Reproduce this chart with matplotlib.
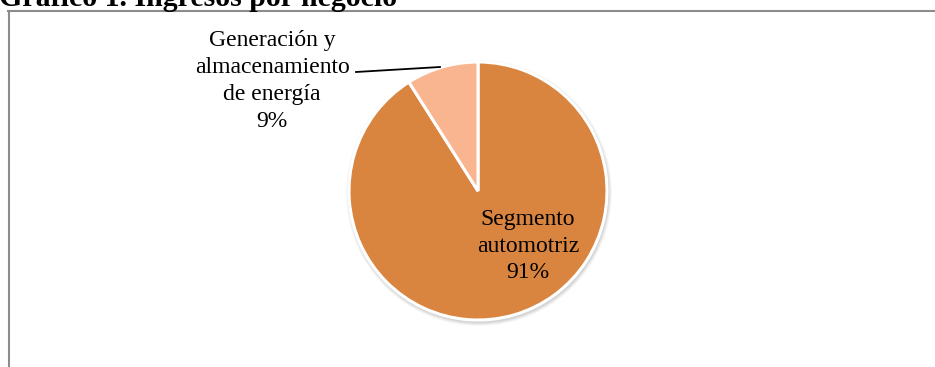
import matplotlib
matplotlib.use("Agg")
import matplotlib.pyplot as plt
from matplotlib.lines import Line2D

# ingresos por negocio (%)
categorias = ["Segmento\nautomotriz", "Generación y\nalmacenamiento\nde energía"]
valores = [91, 9]
colores = ["#D9843F", "#F8B58F"]
titulo = "Gráfico 1. Ingresos por negocio"

W, H = 935, 367
fig = plt.figure(figsize=(W / 100, H / 100), dpi=100)
fig.patch.set_facecolor("white")

# axes in pixel units, y measured upward
ax = fig.add_axes([0, 0, 1, 1])
cx, cy, r = 478, H - 191, 129

# soft shadow under the pie
for k, a in enumerate([0.05, 0.05, 0.04, 0.03]):
    sh = plt.Circle((cx + 1, cy - 2), r + 1 + k, color="#000000", alpha=a, lw=0)
    ax.add_patch(sh)

wedges, _ = ax.pie(valores, colors=colores, startangle=90, counterclock=False,
                   center=(cx, cy), radius=r,
                   wedgeprops=dict(edgecolor="white", linewidth=2.2))
ax.set_xlim(0, W)
ax.set_ylim(0, H)
ax.set_aspect("auto")
ax.axis("off")

total = sum(valores)
etiquetas = [f"{c}\n{v / total:.0%}" for c, v in zip(categorias, valores)]
fuente = "Liberation Serif"

ax.text(528, H - 246, etiquetas[0], ha="center", va="center",
        fontsize=17, family=fuente, linespacing=1.37)
ax.text(272, H - 81, etiquetas[1], ha="center", va="center",
        fontsize=17, family=fuente, linespacing=1.37)
# leader line to the small slice
ax.plot([356, 440], [H - 72, H - 67], color="black", lw=1.3)

# chart frame (cut by the page edges)
ax.add_line(Line2D([8, W], [H - 10.5, H - 10.5], color="#8c8c8c", lw=1.5))
ax.add_line(Line2D([8.5, 8.5], [0, H - 10.5], color="#8c8c8c", lw=1.5))

fig.text(-1 / W, 1 - 5.5 / H, titulo, ha="left", va="baseline",
         fontsize=21.5, fontweight="bold", family=fuente)

fig.savefig("out.png", dpi=100)
